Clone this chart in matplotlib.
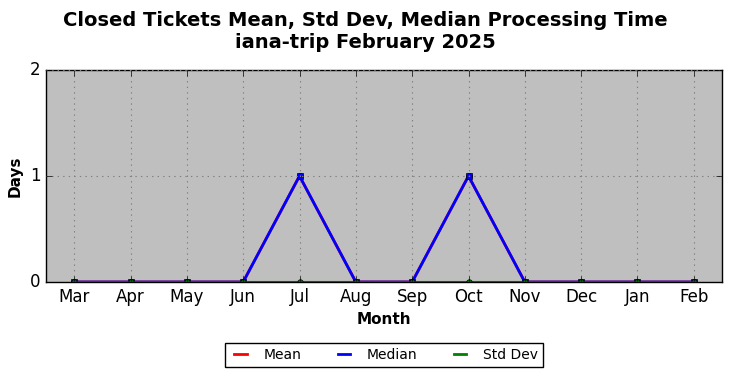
import matplotlib
matplotlib.use("Agg")
import matplotlib.pyplot as plt
from matplotlib.lines import Line2D

plt.style.use("classic")

months = ["Mar", "Apr", "May", "Jun", "Jul", "Aug", "Sep", "Oct", "Nov", "Dec", "Jan", "Feb"]
mean_vals = [0, 0, 0, 0, 1, 0, 0, 1, 0, 0, 0, 0]
median_vals = [0, 0, 0, 0, 1, 0, 0, 1, 0, 0, 0, 0]
std_vals = [0, 0, 0, 0, 0, 0, 0, 0, 0, 0, 0, 0]
series_names = ["Mean", "Median", "Std Dev"]
series_colors = ["red", "blue", "green"]

fig = plt.figure(figsize=(7.31, 3.78), dpi=100, facecolor="white")
ax = fig.add_axes([46/731, 1-282/378, (722-46)/731, (282-70)/378])
ax.set_facecolor("#bfbfbf")
x = list(range(len(months)))
ax.plot(x, mean_vals, color=series_colors[0], lw=2, marker="o", markersize=4)
ax.plot(x, median_vals, color=series_colors[1], lw=2, marker="s", markersize=4)
ax.plot(x, std_vals, color=series_colors[2], lw=1.5, marker="o", markersize=4)
ax.set_xlim(-0.5, 11.5)
ax.set_ylim(0, 2)
ax.set_yticks([0, 1, 2])
ax.set_xticks(x)
ax.set_xticklabels(months, fontsize=12)
ax.tick_params(axis="y", labelsize=12)
ax.grid(True, color="#808080", linestyle=":", lw=0.8)
ax.set_xlabel("Month", fontsize=11, fontweight="bold")
ax.set_ylabel("Days", fontsize=11, fontweight="bold")
fig.suptitle("Closed Tickets Mean, Std Dev, Median Processing Time\niana-trip February 2025",
             fontsize=14, fontweight="bold", y=0.972)
handles = [Line2D([], [], color=c, lw=2) for c in series_colors]
leg = ax.legend(handles, series_names, loc="upper center", bbox_to_anchor=(0.5, -0.257), ncol=3,
                fontsize=10, frameon=True, fancybox=False, handlelength=1.5,
                handletextpad=0.9, columnspacing=2.3, borderpad=0.35)
fig.savefig("out.png", dpi=100, facecolor="white")
